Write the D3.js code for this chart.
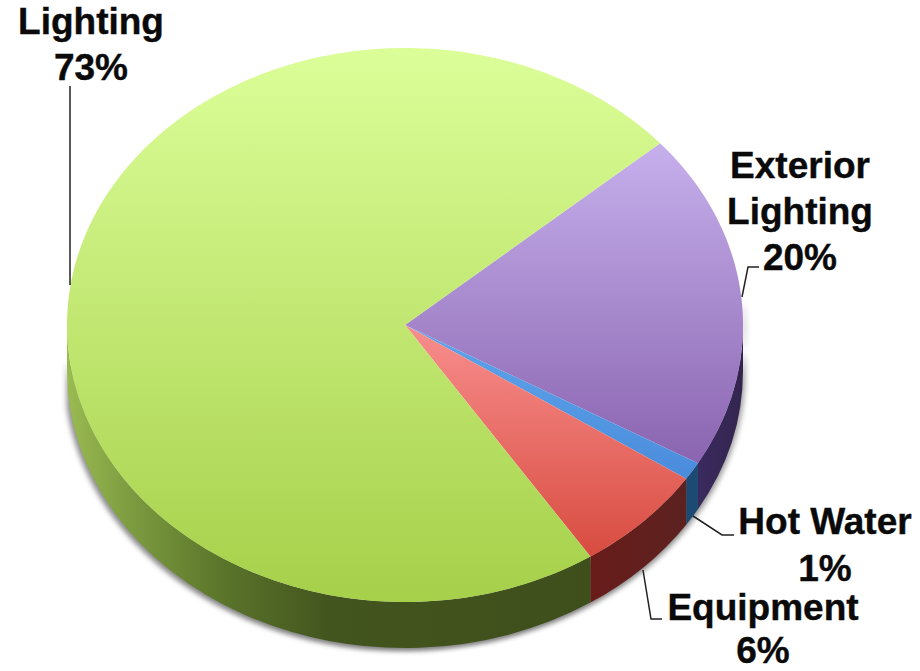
<!DOCTYPE html>
<html><head><meta charset="utf-8">
<script src="https://cdn.jsdelivr.net/npm/d3@7/dist/d3.min.js"></script>
<style>html,body{margin:0;padding:0;background:#fff}svg{display:block}
text{font-family:"Liberation Sans",Arial,sans-serif;font-weight:700;font-size:37px;fill:#0a0a0a;stroke:#0a0a0a;stroke-width:.4;text-anchor:middle}</style>
</head><body><svg id="c" width="920" height="671"></svg>
<script>
const categories = ["Exterior Lighting","Hot Water","Equipment","Lighting"];
const values = [19.7,1.05,6.4,72.85];
const topColors = [["#c6b0ec","#8a64b0"],["#5fa4ea","#4a8cdc"],["#f88e8e","#d84c40"],["#dcfe99","#a6d04a"]];
const wallStops = [
  [[0,"#3a2a5e"],[1,"#33254f"]],
  [[0,"#1c4a72"],[1,"#1c4a72"]],
  [[0,"#681c1a"],[1,"#5c2220"]],
  [[0,"#9aba52"],[0.12,"#7d9c40"],[0.3,"#5a742a"],[0.5,"#43551e"],[1,"#3f4f1c"]]
];
const labelLines = [
  {lines:["Exterior","Lighting","20%"],x:800,y:[178,224,270]},
  {lines:["Hot Water","1%"],x:825,y:[534,581]},
  {lines:["Equipment","6%"],x:763,y:[620,663]},
  {lines:["Lighting","73%"],x:91,y:[34,80]}
];
const leaders = [
  [[742,297],[748,267],[759,267]],
  [[693,516],[722,535],[734,535]],
  [[643,570],[651,619],[662,619]],
  [[70,86],[70,285]]
];

const cx=405, cy=325, rx=338, ry=277, depth=46;
const startAngle = 49*Math.PI/180;
const svg = d3.select("#c"), defs = svg.append("defs");
const pie = d3.pie().sort(null).startAngle(startAngle).endAngle(startAngle+2*Math.PI);
const arcs = pie(values);
const px = a=>cx+rx*Math.sin(a), py = a=>cy-ry*Math.cos(a);
const bot = Math.PI/2, top2 = 3*Math.PI/2;

defs.append("filter").attr("id","blur").attr("x","-10%").attr("y","-10%").attr("width","120%").attr("height","120%")
  .append("feGaussianBlur").attr("stdDeviation",2.5);

arcs.forEach((d,i)=>{
  const g = defs.append("linearGradient").attr("id","top"+i).attr("gradientUnits","userSpaceOnUse")
    .attr("x1",0).attr("x2",0);
  const ys=[cy]; for(let k=0;k<=60;k++) ys.push(py(d.startAngle+(d.endAngle-d.startAngle)*k/60));
  g.attr("y1",d3.min(ys)).attr("y2",d3.max(ys));
  g.append("stop").attr("offset",0).attr("stop-color",topColors[i][0]);
  g.append("stop").attr("offset",1).attr("stop-color",topColors[i][1]);
});

function wall(a0,a1){
  return `M${px(a0)},${py(a0)}A${rx},${ry} 0 0 1 ${px(a1)},${py(a1)}L${px(a1)},${py(a1)+depth}A${rx},${ry} 0 0 0 ${px(a0)},${py(a0)+depth}Z`;
}
// soft shadow under the disc
svg.append("path").attr("d",wall(bot-0.1,top2-0.12)).attr("fill","#555").attr("opacity",.6)
  .attr("transform","translate(-3,3)").attr("filter","url(#blur)");
svg.append("path").attr("d",wall(bot-0.1,top2-0.12)).attr("fill","#555").attr("opacity",.45)
  .attr("transform","translate(3,2)").attr("filter","url(#blur)");

// walls
arcs.forEach((d,i)=>{
  const a0=Math.max(d.startAngle,bot), a1=Math.min(d.endAngle,top2);
  if(a1<=a0) return;
  const g = defs.append("linearGradient").attr("id","wall"+i).attr("gradientUnits","userSpaceOnUse")
    .attr("y1",0).attr("y2",0).attr("x1",Math.min(px(a0),px(a1))).attr("x2",Math.max(px(a0),px(a1)));
  wallStops[i].forEach(s=>g.append("stop").attr("offset",s[0]).attr("stop-color",s[1]));
  svg.append("path").attr("d",wall(a0,a1)).attr("fill",`url(#wall${i})`);
});

// top face
svg.append("g").attr("class","top").selectAll("path").data(arcs).join("path")
  .attr("d",d=>{
    const n=Math.ceil((d.endAngle-d.startAngle)/0.02);
    const pts=d3.range(n+1).map(k=>{const a=d.startAngle+(d.endAngle-d.startAngle)*k/n;return [px(a),py(a)];});
    return `M${cx},${cy}L`+pts.map(p=>p.join(",")).join("L")+"Z";
  })
  .attr("fill",(d,i)=>`url(#top${i})`);

// leaders
const line=d3.line();
svg.append("g").selectAll("path").data(leaders).join("path")
  .attr("d",line).attr("fill","none").attr("stroke","#222").attr("stroke-width",1.5);

// labels
labelLines.forEach((l,i)=>{
  l.lines.forEach((t,j)=>svg.append("text").attr("x",l.x).attr("y",l.y[j]).text(t));
});
</script></body></html>
